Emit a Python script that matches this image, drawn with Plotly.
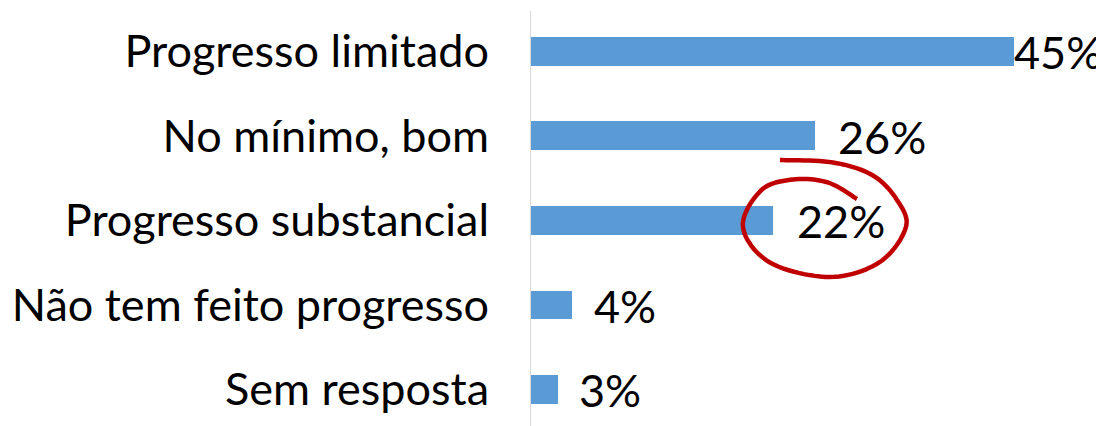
import numpy as np
import plotly.graph_objects as go

categories = ["Progresso limitado", "No mínimo, bom", "Progresso substancial",
              "Não tem feito progresso", "Sem resposta"]
values = [44.6, 26.3, 22.4, 3.9, 2.6]
value_labels = ["45%", "26%", "22%", "4%", "3%"]
label_shift = [-2, 21, 22, 20, 19]
highlight_index = 2

FONT = "Lato"
FS = 45
pos = list(range(len(categories)))

fig = go.Figure()
fig.add_trace(go.Bar(
    x=values, y=pos, orientation="h",
    marker=dict(color="#5b9bd5", line=dict(width=0)),
    width=0.343, hoverinfo="skip",
))

for i, (v, t, s) in enumerate(zip(values, value_labels, label_shift)):
    fig.add_annotation(x=v, y=i, xref="x", yref="y", text=t, showarrow=False,
                       xanchor="left", yanchor="middle", xshift=s, yshift=-1,
                       font=dict(family=FONT, size=FS, color="#000000"))

# hand-drawn circle around the highlighted label (pixel offsets from the bar end)
ctrl = np.array([
    (7, 60.5), (60, 58), (100, 45), (124, 20.5), (133, -6.5), (107, -41.5), (57, -56.5),
    (-3, -42), (-30, -6.5), (-12, 30), (20, 41), (55, 38), (84, 21.5)
])
def catmull(pts, n=12):
    p = np.vstack([pts[0], pts, pts[-1]])
    out = []
    for i in range(1, len(p) - 2):
        p0, p1, p2, p3 = p[i - 1], p[i], p[i + 1], p[i + 2]
        for t in np.linspace(0, 1, n, endpoint=False):
            t2, t3 = t * t, t * t * t
            out.append(0.5 * ((2 * p1) + (-p0 + p2) * t + (2 * p0 - 5 * p1 + 4 * p2 - p3) * t2
                              + (-p0 + 3 * p1 - 3 * p2 + p3) * t3))
    out.append(p[-2])
    return np.array(out)
curve = catmull(ctrl)
path = "M " + " L ".join(f"{x:.1f},{y:.1f}" for x, y in curve)
fig.add_shape(type="path", path=path, xref="x", yref="y",
              xsizemode="pixel", ysizemode="pixel",
              xanchor=values[highlight_index], yanchor=highlight_index,
              line=dict(color="#c00000", width=4.5))

# page body has an 8px default margin, so the figure is 8px smaller on each side
fig.update_layout(
    width=1096, height=418,
    margin=dict(l=522, r=10, t=3, b=0, autoexpand=False),
    paper_bgcolor="white", plot_bgcolor="white",
    showlegend=False, bargap=0,
    xaxis=dict(range=[0, 52], visible=False, fixedrange=True, automargin=False),
    yaxis=dict(range=[4.432, -0.479], tickvals=pos, ticktext=categories,
               showgrid=False, zeroline=False, showline=False, automargin=False,
               ticks="outside", ticklen=31, tickcolor="rgba(0,0,0,0)",
               tickfont=dict(family=FONT, size=FS, color="#000000")),
)
# vertical category axis line
fig.add_shape(type="line", xref="x", yref="paper", x0=0, x1=0, y0=0, y1=1,
              line=dict(color="#d9d9d9", width=2))

fig.write_html("out.html")
